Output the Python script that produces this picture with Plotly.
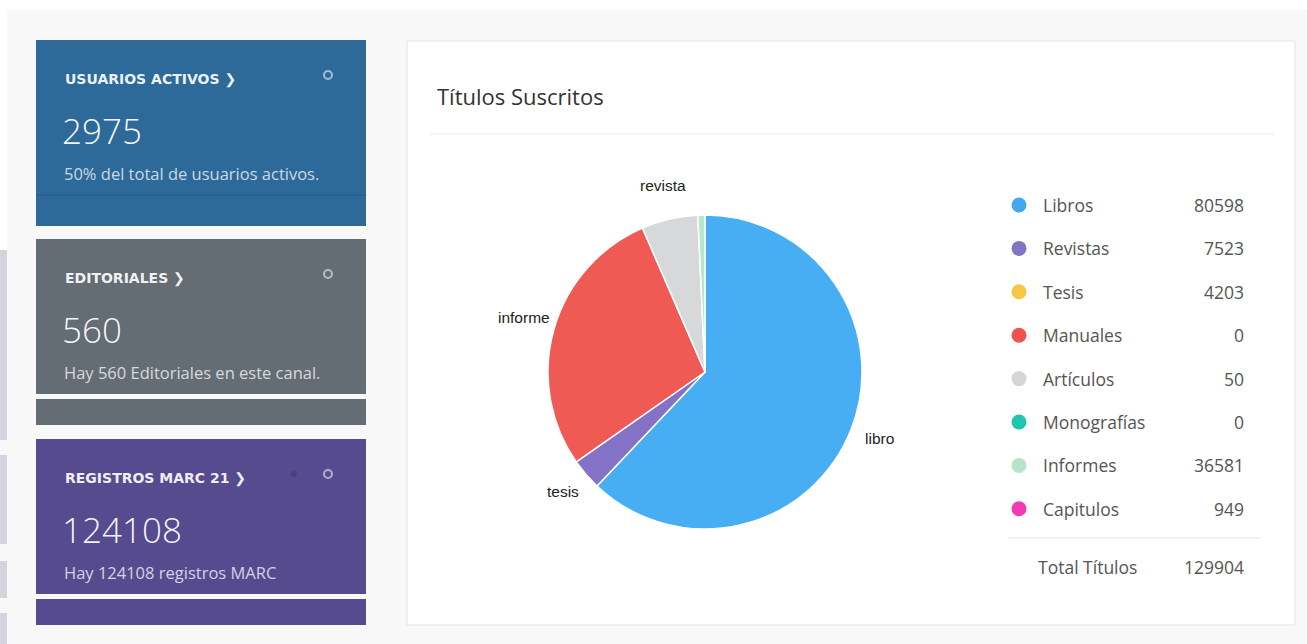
import math
import plotly.graph_objects as go

# ---------------- data ----------------
card_titles = ["USUARIOS ACTIVOS", "EDITORIALES", "REGISTROS MARC 21"]
card_values = [2975, 560, 124108]
card_notes = ["50% del total de usuarios activos.",
              "Hay 560 Editoriales en este canal.",
              "Hay 124108 registros MARC"]

pie_labels = ["libro", "tesis", "informe", "revista", "capitulo"]
pie_values = [80598, 4203, 36581, 7523, 949]
pie_show_label = [True, True, True, True, False]

legend_labels = ["Libros", "Revistas", "Tesis", "Manuales", "Artículos",
                 "Monografías", "Informes", "Capitulos"]
legend_values = [80598, 7523, 4203, 0, 50, 0, 36581, 949]
total_label = "Total Títulos"
total_value = 129904
chart_title = "Títulos Suscritos"

# ---------------- style ----------------
W, H = 1307, 644
pie_colors = ["#48aef4", "#8472c6", "#f05a55", "#d6d8da", "#b7e6cc"]
legend_colors = ["#44a8f0", "#8474c4", "#f6c744", "#ef5350", "#d5d5d5",
                 "#1ec6b0", "#b5e4ca", "#f03cb0"]
card_colors = ["#2e6a99", "#646d73", "#574b8f"]
card_tops = [40, 239, 439]
card_main_bottoms = [226, 394, 594]
card_band = [None, (399, 425), (599, 625)]
CX0, CX1 = 36, 366

fig = go.Figure()

shapes = []
annotations = []

# page decorations
shapes.append(dict(type="rect", x0=0, x1=W, y0=0, y1=10, fillcolor="white", line_width=0, layer="below"))
shapes.append(dict(type="rect", x0=0, x1=7, y0=0, y1=250, fillcolor="white", line_width=0, layer="below"))
strip = [(250, 440), (455, 544), (561, 598), (613, 644)]
for a, b in strip:
    shapes.append(dict(type="rect", x0=0, x1=7, y0=a, y1=b, fillcolor="#d4d4de", line_width=0, layer="below"))

# cards
for i in range(3):
    col = card_colors[i]
    top = card_tops[i]
    shapes.append(dict(type="rect", x0=CX0, x1=CX1, y0=top, y1=card_main_bottoms[i],
                       fillcolor=col, line_width=0, layer="below"))
    if card_band[i]:
        b0, b1 = card_band[i]
        shapes.append(dict(type="rect", x0=CX0, x1=CX1, y0=b0, y1=b1,
                           fillcolor=col, line_width=0, layer="below"))
    else:
        shapes.append(dict(type="line", x0=CX0, x1=CX1, y0=195, y1=195,
                           line=dict(color="rgba(0,0,0,0.10)", width=1.5), layer="below"))
    cy = top + 35
    shapes.append(dict(type="circle", x0=324, x1=332, y0=cy - 4, y1=cy + 4,
                       line=dict(color="rgba(255,255,255,0.55)", width=2), fillcolor="rgba(0,0,0,0)", layer="below"))
    if i == 2:
        shapes.append(dict(type="circle", x0=291, x1=297, y0=cy - 3, y1=cy + 3,
                           line_width=0, fillcolor="rgba(0,0,0,0.12)", layer="below"))
    annotations.append(dict(x=63, y=top + 39, xref="x", yref="y", xanchor="left", yanchor="middle",
                            text=card_titles[i] + " ❯", showarrow=False,
                            font=dict(family="DejaVu Sans", size=14, color="rgba(255,255,255,0.93)", weight=700)))
    annotations.append(dict(x=60, y=top + 90, xref="x", yref="y", xanchor="left", yanchor="middle",
                            text=str(card_values[i]), showarrow=False,
                            font=dict(family="Open Sans", size=35, color="rgba(255,255,255,0.95)", weight=300)))
    annotations.append(dict(x=62, y=top + 133, xref="x", yref="y", xanchor="left", yanchor="middle",
                            text=card_notes[i], showarrow=False,
                            font=dict(family="Open Sans", size=16.5, color="rgba(255,255,255,0.75)")))

# panel
shapes.append(dict(type="rect", x0=407, x1=1295, y0=41, y1=625, fillcolor="white",
                   line=dict(color="#e3e3e3", width=1), layer="below"))
shapes.append(dict(type="line", x0=430, x1=1274, y0=134, y1=134,
                   line=dict(color="#ececec", width=1.2), layer="below"))
annotations.append(dict(x=435, y=96, xref="x", yref="y", xanchor="left", yanchor="middle",
                        text=chart_title, showarrow=False,
                        font=dict(family="Open Sans", size=22, color="#333333")))

# pie
pcx, pcy, pr = 705, 372, 157
fig.add_trace(go.Pie(
    labels=pie_labels, values=pie_values, sort=False, direction="clockwise", rotation=0,
    marker=dict(colors=pie_colors, line=dict(color="white", width=1.5)),
    textinfo="none",
    domain=dict(x=[(pcx - pr) / W, (pcx + pr) / W], y=[1 - (pcy + pr) / H, 1 - (pcy - pr) / H]),
    showlegend=False, hoverinfo="label+value",
))
# outside slice labels, placed at each slice's mid angle
tot = sum(pie_values)
cum = 0
label_r = pr + 31
for lab, val, show in zip(pie_labels, pie_values, pie_show_label):
    mid = (cum + val / 2) / tot * 2 * math.pi
    cum += val
    if not show:
        continue
    annotations.append(dict(x=pcx + label_r * math.sin(mid), y=pcy - label_r * math.cos(mid) - 3,
                            xref="x", yref="y", xanchor="center", yanchor="middle",
                            text=lab, showarrow=False,
                            font=dict(family="Liberation Sans, Arial", size=15.5, color="#222222")))

# legend table
row_y = [205 + 43.4 * i for i in range(len(legend_labels))]
fig.add_trace(go.Scatter(
    x=[1019] * len(legend_labels), y=row_y, mode="markers",
    marker=dict(size=15, color=legend_colors, line_width=0),
    xaxis="x", yaxis="y", showlegend=False, hoverinfo="skip",
))
for lab, val, yy in zip(legend_labels, legend_values, row_y):
    annotations.append(dict(x=1041, y=yy, xref="x", yref="y", xanchor="left", yanchor="middle",
                            text=lab, showarrow=False,
                            font=dict(family="Open Sans", size=17.5, color="#555555")))
    annotations.append(dict(x=1246, y=yy, xref="x", yref="y", xanchor="right", yanchor="middle",
                            text=str(val), showarrow=False,
                            font=dict(family="Open Sans", size=17.5, color="#555555")))
shapes.append(dict(type="line", x0=1008, x1=1260, y0=538, y1=538,
                   line=dict(color="#e2e2e2", width=1.2), layer="below"))
annotations.append(dict(x=1036, y=567, xref="x", yref="y", xanchor="left", yanchor="middle",
                        text=total_label, showarrow=False,
                        font=dict(family="Open Sans", size=17.5, color="#555555")))
annotations.append(dict(x=1246, y=567, xref="x", yref="y", xanchor="right", yanchor="middle",
                        text=str(total_value), showarrow=False,
                        font=dict(family="Open Sans", size=17.5, color="#555555")))

fig.update_layout(
    width=W, height=H, margin=dict(l=0, r=0, t=0, b=0),
    paper_bgcolor="#f8f8f8", plot_bgcolor="rgba(0,0,0,0)",
    xaxis=dict(range=[0, W], visible=False, fixedrange=True, domain=[0, 1]),
    yaxis=dict(range=[H, 0], visible=False, fixedrange=True, domain=[0, 1]),
    shapes=shapes, annotations=annotations,
)

fig.write_html("out.html", config={"displayModeBar": False},
               post_script="document.body.style.margin='0';document.body.style.overflow='hidden';")
